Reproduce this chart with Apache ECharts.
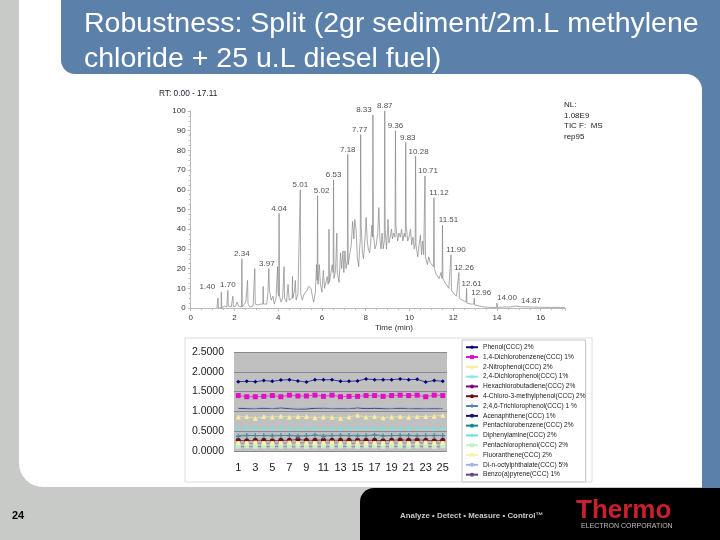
<!DOCTYPE html>
<html lang="en">
<head>
  <meta charset="UTF-8" />
  <title>Robustness: Split</title>
  <script src="https://cdn.jsdelivr.net/npm/echarts@6/dist/echarts.min.js"></script>
  <style>html, body { margin: 0; padding: 0; background: #c8cac8; }</style>
</head>

<body>
  <div id="main" style="width: 720px; height: 540px;"></div>

  <script>
    // chromatogram trace: [minutes, relative abundance]
    const ticTrace = [
      [1.2, 0], [1.24, 0], [1.25, 5], [1.27, 0], [1.39, 0], [1.4, 8], [1.42, 0], [1.55, 1], [1.6, 2], [1.65, 0.5], [1.69, 1], [1.7, 9], [1.72, 1],
      [1.8, 2], [1.85, 0.5], [1.92, 1], [1.93, 6], [1.95, 0.5], [2.05, 1], [2.12, 3], [2.18, 1], [2.25, 1.5], [2.32, 0.5], [2.34, 25], [2.36, 0.5],
      [2.45, 1], [2.52, 3], [2.57, 3], [2.6, 14], [2.62, 2], [2.72, 0.5], [2.85, 1], [2.91, 1], [2.93, 20], [2.95, 2], [3.02, 1], [3.08, 1.5],
      [3.14, 0.7], [3.2, 2], [3.26, 1], [3.3, 2], [3.31, 11], [3.33, 2], [3.42, 3], [3.48, 2], [3.53, 8], [3.57, 20], [3.6, 9], [3.68, 4],
      [3.76, 6], [3.82, 2], [3.9, 5], [3.97, 21], [3.99, 8], [4.02, 6], [4.04, 48], [4.06, 6], [4.13, 3], [4.2, 5], [4.25, 5], [4.27, 21], [4.29, 5], [4.38, 3],
      [4.45, 12], [4.5, 4], [4.58, 4], [4.64, 5], [4.65, 16], [4.67, 5], [4.75, 9], [4.78, 14], [4.82, 4], [4.9, 7], [4.96, 6], [4.99, 6], [5.01, 60], [5.03, 7],
      [5.1, 4], [5.18, 7], [5.25, 6], [5.32, 9], [5.38, 11], [5.44, 12], [5.5, 10], [5.56, 6], [5.62, 3], [5.7, 8], [5.75, 22], [5.78, 14], [5.8, 57],
      [5.82, 12], [5.88, 22], [5.93, 12], [6.0, 8], [6.06, 19], [6.12, 10], [6.18, 10], [6.24, 16], [6.28, 12], [6.31, 14], [6.32, 40], [6.34, 13],
      [6.42, 13], [6.47, 22], [6.51, 18], [6.53, 65], [6.55, 15], [6.62, 19], [6.67, 20], [6.68, 38], [6.7, 18], [6.78, 13], [6.85, 28], [6.9, 20], [6.96, 29],
      [7.0, 18], [7.05, 29], [7.1, 20], [7.16, 24], [7.18, 78], [7.2, 22], [7.28, 21], [7.34, 32], [7.4, 44], [7.46, 35], [7.5, 45], [7.56, 40],
      [7.62, 25], [7.68, 21], [7.72, 30], [7.75, 34], [7.77, 88], [7.79, 42], [7.85, 28], [7.9, 25], [7.96, 34], [8.02, 46], [8.07, 34], [8.12, 30],
      [8.18, 28], [8.22, 32], [8.28, 42], [8.31, 36], [8.33, 98], [8.35, 38], [8.42, 30], [8.48, 32], [8.55, 38], [8.6, 51], [8.65, 35], [8.7, 30],
      [8.75, 38], [8.8, 30], [8.85, 34], [8.87, 100], [8.89, 40], [8.95, 30], [9.02, 45], [9.06, 33], [9.12, 36], [9.18, 40], [9.22, 35], [9.28, 38],
      [9.34, 36], [9.36, 90], [9.38, 42], [9.46, 34], [9.52, 38], [9.58, 36], [9.64, 40], [9.7, 34], [9.76, 38], [9.81, 36], [9.83, 84], [9.85, 42], [9.92, 34],
      [9.98, 36], [10.05, 40], [10.1, 32], [10.16, 36], [10.22, 30], [10.26, 32], [10.28, 77], [10.3, 32], [10.38, 26], [10.44, 32], [10.5, 37],
      [10.55, 27], [10.6, 34], [10.65, 27], [10.69, 27], [10.71, 67], [10.73, 26], [10.82, 22], [10.88, 26], [10.95, 23], [11.02, 22], [11.1, 21],
      [11.12, 56], [11.14, 20], [11.22, 17], [11.3, 17], [11.36, 15], [11.44, 18], [11.49, 15], [11.51, 42], [11.53, 15], [11.62, 13], [11.7, 14],
      [11.8, 10], [11.88, 9], [11.9, 27], [11.92, 9], [12.05, 7], [12.15, 6], [12.24, 6], [12.26, 18], [12.28, 5], [12.42, 4], [12.59, 3], [12.61, 10], [12.63, 2.5],
      [12.8, 2], [12.94, 2], [12.96, 5], [12.98, 1.5], [13.2, 1], [13.4, 0.5], [13.7, 0.3], [13.98, 0.3], [14.0, 2.5], [14.02, 0.3], [14.3, 0.5], [14.6, 0.5],
      [14.87, 1], [15.1, 0.6], [15.6, 0.5], [16.2, 0.3], [17.11, 0.3]
    ];

    const peakTimes = [1.4, 1.7, 2.34, 3.57, 4.04, 5.01, 5.8, 6.53, 7.18, 7.77, 8.33, 8.87, 9.36, 9.83, 10.28, 10.71, 11.12, 11.51, 11.9, 12.26, 12.61, 12.96, 14.0, 14.87];
    const peakHeights = [8, 9, 25, 20, 48, 60, 57, 65, 78, 88, 98, 100, 90, 84, 77, 67, 56, 42, 27, 18, 10, 5, 2.5, 1];
    const peakTexts = ["1.40", "1.70", "2.34", "3.97", "4.04", "5.01", "5.02", "6.53", "7.18", "7.77", "8.33", "8.87", "9.36", "9.83", "10.28", "10.71", "11.12", "11.51", "11.90", "12.26", "12.61", "12.96", "14.00", "14.87"];

    // lower chart
    const runs = Array.from({ length: 25 }, (_, i) => String(i + 1));
    const compoundNames = [
      "Phenol(CCC) 2%", "1,4-Dichlorobenzene(CCC) 1%", "2-Nitrophenol(CCC) 2%", "2,4-Dichlorophenol(CCC) 1%",
      "Hexachlorobutadiene(CCC) 2%", "4-Chloro-3-methylphenol(CCC) 2%", "2,4,6-Trichlorophenol(CCC) 1 %", "Acenaphthene(CCC) 1%",
      "Pentachlorobenzene(CCC) 2%", "Diphenylamine(CCC) 2%", "Pentachlorophenol(CCC) 2%", "Fluoranthene(CCC) 2%",
      "Di-n-octylphthalate(CCC) 5%", "Benzo(a)pyrene(CCC) 1%"
    ];
    const phenol = [1.75, 1.76, 1.75, 1.78, 1.76, 1.79, 1.8, 1.77, 1.74, 1.8, 1.8, 1.8, 1.76, 1.76, 1.77, 1.82, 1.8, 1.8, 1.8, 1.82, 1.8, 1.81, 1.74, 1.78, 1.76];
    const dichlorobenzene = [1.4, 1.37, 1.37, 1.38, 1.4, 1.37, 1.41, 1.39, 1.39, 1.41, 1.38, 1.41, 1.37, 1.38, 1.38, 1.4, 1.4, 1.38, 1.4, 1.41, 1.4, 1.41, 1.37, 1.41, 1.4];
    const nitrophenol = [0.86, 0.87, 0.83, 0.87, 0.86, 0.88, 0.86, 0.87, 0.87, 0.84, 0.86, 0.85, 0.83, 0.86, 0.9, 0.86, 0.87, 0.84, 0.86, 0.87, 0.85, 0.87, 0.87, 0.88, 0.9];
    const dichlorophenol = [0.57, 0.56, 0.56, 0.57, 0.56, 0.57, 0.55, 0.56, 0.58, 0.58, 0.56, 0.56, 0.55, 0.58, 0.57, 0.58, 0.57, 0.55, 0.57, 0.56, 0.55, 0.57, 0.56, 0.55, 0.56];
    const hexachlorobutadiene = [0.2, 0.19, 0.2, 0.2, 0.19, 0.2, 0.2, 0.21, 0.2, 0.2, 0.2, 0.21, 0.2, 0.19, 0.2, 0.2, 0.2, 0.19, 0.2, 0.2, 0.2, 0.21, 0.2, 0.19, 0.2];
    const chloromethylphenol = [0.27, 0.26, 0.27, 0.27, 0.26, 0.27, 0.27, 0.29, 0.27, 0.27, 0.28, 0.27, 0.27, 0.27, 0.27, 0.27, 0.27, 0.26, 0.27, 0.28, 0.27, 0.28, 0.27, 0.26, 0.27];
    const trichlorophenol = [0.37, 0.39, 0.39, 0.39, 0.38, 0.39, 0.39, 0.37, 0.39, 0.4, 0.37, 0.39, 0.39, 0.39, 0.38, 0.39, 0.4, 0.38, 0.39, 0.39, 0.39, 0.38, 0.39, 0.39, 0.39];
    const acenaphthene = [1.08, 1.07, 1.07, 1.08, 1.07, 1.09, 1.07, 1.06, 1.06, 1.08, 1.08, 1.07, 1.07, 1.07, 1.09, 1.07, 1.08, 1.07, 1.07, 1.08, 1.07, 1.07, 1.07, 1.07, 1.07];
    const pentachlorobenzene = [0.39, 0.4, 0.39, 0.39, 0.4, 0.39, 0.4, 0.39, 0.38, 0.4, 0.4, 0.39, 0.4, 0.39, 0.4, 0.38, 0.41, 0.39, 0.39, 0.4, 0.4, 0.39, 0.39, 0.4, 0.39];
    const diphenylamine = [0.57, 0.58, 0.57, 0.57, 0.57, 0.58, 0.57, 0.56, 0.57, 0.59, 0.57, 0.56, 0.57, 0.58, 0.58, 0.59, 0.58, 0.57, 0.58, 0.57, 0.58, 0.57, 0.56, 0.57, 0.57];
    const pentachlorophenol = [0.12, 0.13, 0.12, 0.13, 0.13, 0.12, 0.13, 0.13, 0.12, 0.13, 0.13, 0.12, 0.13, 0.13, 0.12, 0.13, 0.13, 0.12, 0.13, 0.13, 0.12, 0.13, 0.13, 0.12, 0.13];
    const fluoranthene = [0.2, 0.2, 0.21, 0.2, 0.2, 0.2, 0.21, 0.2, 0.2, 0.2, 0.2, 0.21, 0.2, 0.2, 0.21, 0.2, 0.2, 0.2, 0.21, 0.2, 0.2, 0.2, 0.21, 0.2, 0.2];
    const phthalate = [1.1, 1.09, 1.08, 1.1, 1.08, 1.11, 1.09, 1.08, 1.09, 1.1, 1.09, 1.08, 1.09, 1.08, 1.11, 1.09, 1.1, 1.09, 1.08, 1.1, 1.08, 1.09, 1.08, 1.09, 1.08];
    const benzopyrene = [0.11, 0.11, 0.12, 0.11, 0.11, 0.12, 0.11, 0.11, 0.12, 0.11, 0.11, 0.11, 0.12, 0.11, 0.11, 0.12, 0.11, 0.11, 0.12, 0.11, 0.11, 0.12, 0.11, 0.11, 0.11];
    const compoundValues = [phenol, dichlorobenzene, nitrophenol, dichlorophenol, hexachlorobutadiene, chloromethylphenol, trichlorophenol, acenaphthene, pentachlorobenzene, diphenylamine, pentachlorophenol, fluoranthene, phthalate, benzopyrene];

    const plus = "path://M3 0h2v3h3v2h-3v3h-2v-3h-3v-2h3z";
    const compoundStyle = [
      { color: "#000080", symbol: "diamond", size: 4, width: 0.7 },
      { color: "#e010c8", symbol: "rect", size: 5, width: 0.7 },
      { color: "#f6ee9c", symbol: "triangle", size: 5, width: 0.6 },
      { color: "#8fe4e4", symbol: "diamond", size: 4, width: 0.2 },
      { color: "#800080", symbol: "none", size: 0, width: 0.5 },
      { color: "#6a0f14", symbol: "circle", size: 5, width: 0.7 },
      { color: "#4f86a8", symbol: plus, size: 5, width: 0.6 },
      { color: "#10106e", symbol: "none", size: 0, width: 0.8 },
      { color: "#118a92", symbol: "none", size: 0, width: 0.6 },
      { color: "#6fe2e2", symbol: "diamond", size: 4, width: 0.2 },
      { color: "#c6f0c6", symbol: "rect", size: 5, width: 0.3 },
      { color: "#f8f4b0", symbol: "rect", size: 4, width: 0.3 },
      { color: "#a4b4e0", symbol: "none", size: 0, width: 0.8 },
      { color: "#6a4a78", symbol: "none", size: 0, width: 0.5 }
    ];

    // how far each peak label sits sideways from its peak
    const labelShift = {
      "1.40": -14, "3.97": -2, "5.02": 4, "7.77": -1, "8.33": -9, "9.83": 2, "10.28": 3, "10.71": 3, "11.12": 5,
      "11.51": 6, "11.90": 5, "12.26": 5, "12.61": 5, "12.96": 7, "14.00": 10, "14.87": 15
    };

    const sans = '"Liberation Sans", Arial, sans-serif';
    const blue = "#5b80aa";
    const grey = "#c8cac8";
    const peakLabels = peakTimes.map((t, i) => ({ value: [t, peakHeights[i]], name: peakTexts[i] }));

    const myChart = echarts.init(document.getElementById("main"));

    myChart.setOption({
      animation: false,
      backgroundColor: grey,
      title: {
        text: "Robustness: Split (2gr sediment/2m.L methylene\nchloride + 25 u.L diesel fuel)",
        left: 84,
        top: 7,
        padding: 0,
        textStyle: { color: "#fff", fontFamily: sans, fontWeight: "normal", fontSize: 28.5, lineHeight: 35 }
      },
      graphic: {
        z: -1,
        elements: [
          { type: "rect", shape: { x: 19, y: 0, width: 60, height: 80 }, style: { fill: "#fff" } },
          { type: "rect", shape: { x: 61, y: 0, width: 659, height: 74, r: [0, 0, 0, 14] }, style: { fill: blue } },
          { type: "rect", shape: { x: 702, y: 0, width: 18, height: 488 }, style: { fill: blue } },
          { type: "rect", shape: { x: 684, y: 70, width: 20, height: 22 }, style: { fill: blue } },
          { type: "rect", shape: { x: 19, y: 74, width: 683, height: 413, r: [0, 16, 0, 24] }, style: { fill: "#fff" } },
          { type: "rect", shape: { x: 360, y: 488, width: 360, height: 52, r: [14, 0, 0, 0] }, style: { fill: "#000" } },
          { type: "rect", shape: { x: 185, y: 338, width: 407, height: 144 }, style: { fill: "#fff", stroke: "#dcdcdc", lineWidth: 1 } },
          { type: "text", x: 159, y: 90, style: { text: "RT: 0.00 - 17.11", fill: "#223", font: "8.3px " + sans } },
          { type: "text", x: 564, y: 100, style: { text: "NL:\n1.08E9\nTIC F:  MS\nrep95", fill: "#222", font: "8px " + sans, lineHeight: 10.5 } },
          { type: "text", x: 375, y: 324, style: { text: "Time (min)", fill: "#333", font: "8px " + sans } },
          { type: "text", x: 12, y: 510, style: { text: "24", fill: "#000", font: "bold 11px " + sans } },
          { type: "text", x: 400, y: 512, style: { text: "Analyze • Detect • Measure • Control™", fill: "#c8c8c8", font: "bold 7.9px " + sans } },
          { type: "text", x: 576, y: 498, style: { text: "Thermo", fill: "#c8202c", font: 'bold 26px "Liberation Sans", sans-serif' } },
          { type: "text", x: 581, y: 523, style: { text: "ELECTRON CORPORATION", fill: "#bdbdbd", font: "7px " + sans } }
        ]
      },
      legend: {
        orient: "vertical",
        left: 462,
        top: 340,
        padding: [3, 0, 3, 3],
        borderColor: "#c4c4c4",
        borderWidth: 1,
        backgroundColor: "#fff",
        itemWidth: 12,
        itemHeight: 5,
        itemGap: 1.3,
        data: compoundNames,
        textStyle: { fontFamily: sans, fontSize: 6.6, color: "#222", lineHeight: 8.5 }
      },
      grid: [
        { left: 190.7, top: 111, width: 374.3, height: 197, show: false },
        { left: 234, top: 352, width: 213, height: 99, show: true, z: 1, backgroundColor: "#c0c0c0", borderWidth: 0 }
      ],
      xAxis: [
        {
          type: "value",
          gridIndex: 0,
          min: 0,
          max: 17.11,
          interval: 2,
          minorTick: { show: true, splitNumber: 4, length: 2, lineStyle: { color: "#bbb" } },
          splitLine: { show: false },
          axisLine: { lineStyle: { color: "#bbb" } },
          axisTick: { length: 3, lineStyle: { color: "#bbb" } },
          axisLabel: { color: "#333", fontFamily: sans, fontSize: 8, margin: 6, showMaxLabel: false }
        },
        {
          type: "category",
          gridIndex: 1,
          data: runs,
          z: 1,
          axisLine: { show: false },
          axisTick: { show: false },
          axisLabel: { interval: 1, color: "#222", fontFamily: sans, fontSize: 11, margin: 11 }
        }
      ],
      yAxis: [
        {
          type: "value",
          gridIndex: 0,
          min: 0,
          max: 100,
          interval: 10,
          minorTick: { show: true, splitNumber: 4, length: 2, lineStyle: { color: "#bbb" } },
          splitLine: { show: false },
          axisLine: { show: true, lineStyle: { color: "#bbb" } },
          axisTick: { show: true, length: 3, lineStyle: { color: "#bbb" } },
          axisLabel: { color: "#333", fontFamily: sans, fontSize: 8, margin: 5 }
        },
        {
          type: "value",
          gridIndex: 1,
          min: 0,
          max: 2.5,
          interval: 0.5,
          z: 1,
          splitLine: { lineStyle: { color: "#8a8a8a", width: 1 } },
          axisLine: { show: false },
          axisTick: { show: false },
          axisLabel: { color: "#222", fontFamily: sans, fontSize: 10.5, margin: 10, formatter: (v) => v.toFixed(4) }
        }
      ],
      series: [
        {
          type: "line",
          name: "TIC",
          xAxisIndex: 0,
          yAxisIndex: 0,
          data: ticTrace,
          showSymbol: false,
          sampling: false,
          lineStyle: { color: "#858585", width: 0.7 }
        },
        {
          type: "scatter",
          name: "Peak labels",
          xAxisIndex: 0,
          yAxisIndex: 0,
          symbolSize: 0,
          data: peakLabels.map((p) => ({
            ...p,
            label: { offset: [labelShift[p.name] || 0, 0] }
          })),
          label: { show: true, position: "top", distance: 1, formatter: "{b}", color: "#222", fontFamily: sans, fontSize: 8 }
        },
        ...compoundNames.map((name, i) => ({
          type: "line",
          name: name,
          xAxisIndex: 1,
          yAxisIndex: 1,
          data: compoundValues[i],
          symbol: compoundStyle[i].symbol,
          symbolSize: compoundStyle[i].size,
          showSymbol: compoundStyle[i].symbol !== "none",
          itemStyle: { color: compoundStyle[i].color },
          lineStyle: { color: compoundStyle[i].color, width: compoundStyle[i].width }
        }))
      ]
    });
  </script>
</body>

</html>
